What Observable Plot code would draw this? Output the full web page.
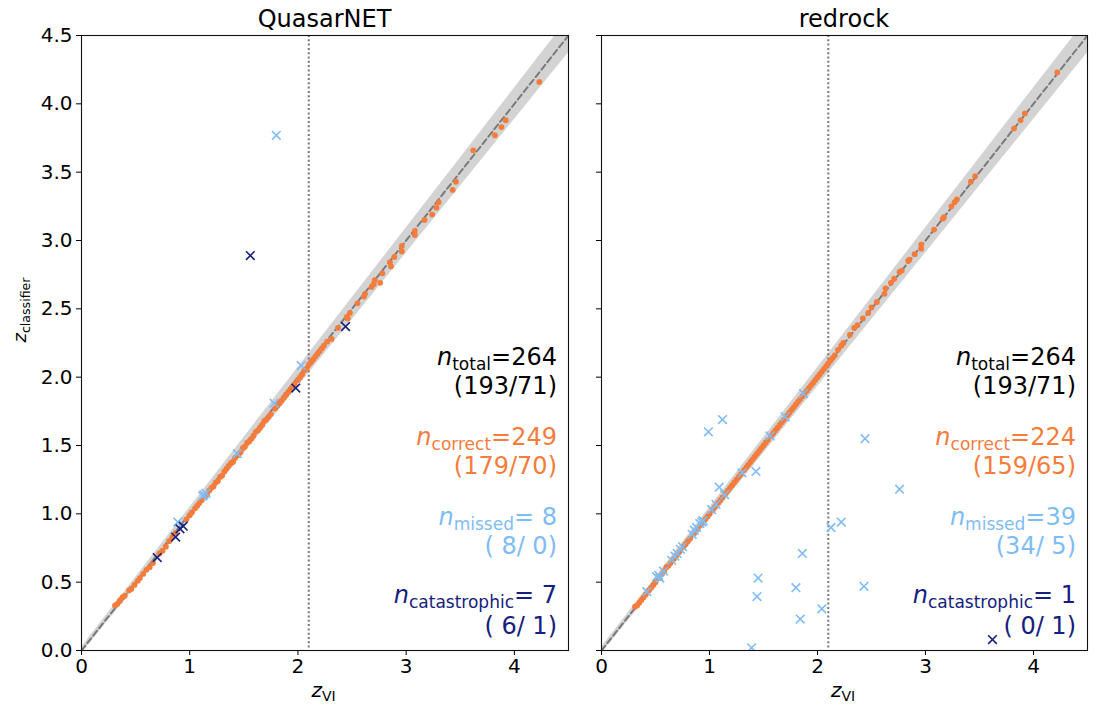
<!DOCTYPE html>
<html><head><meta charset="utf-8">
<script src="https://cdn.jsdelivr.net/npm/d3@7"></script>
<script src="https://cdn.jsdelivr.net/npm/@observablehq/plot@0.6"></script>
<style>
body{margin:0;background:#fff;}
#wrap{position:relative;width:1096px;height:713px;overflow:hidden;background:#fff;}
#wrap svg{position:absolute;top:0;}
</style></head><body><div id="wrap"></div>
<script>
// ---------------- data ----------------
const panelTitles = ["QuasarNET", "redrock"];

// QuasarNET: correct (orange dots)
const qnCorrectVI = [0.31,0.33,0.35,0.36,0.38,0.40,0.44,0.46,0.49,0.52,0.54,0.57,0.60,0.63,0.66,0.72,0.75,0.78,0.81,0.84,0.87,0.97,1.00,1.02,1.05,1.07,1.09,1.11,1.14,1.16,1.18,1.20,1.22,1.24,1.26,1.28,1.30,1.32,1.34,1.36,1.38,1.40,1.42,1.45,1.47,1.49,1.51,1.53,1.55,1.57,1.59,1.61,1.63,1.65,1.67,1.69,1.71,1.73,1.75,1.79,1.81,1.83,1.85,1.87,1.89,1.91,1.93,1.95,1.97,2.00,2.02,2.04,2.06,2.08,2.10,2.12,2.14,2.16,2.18,2.20,2.22,2.24,2.27,2.31,2.37,2.45,2.46,2.48,2.55,2.61,2.62,2.68,2.70,2.71,2.76,2.78,2.86,2.85,2.89,2.96,2.96,3.08,3.08,3.17,3.24,3.28,3.30,3.43,3.46,3.62,3.82,3.88,3.92,4.23];
const qnCorrectZ  = [0.33,0.34,0.36,0.37,0.39,0.40,0.44,0.45,0.48,0.51,0.53,0.56,0.59,0.61,0.64,0.71,0.73,0.76,0.80,0.83,0.86,0.96,0.99,1.01,1.04,1.06,1.08,1.10,1.13,1.14,1.17,1.19,1.20,1.23,1.24,1.27,1.28,1.31,1.33,1.35,1.37,1.38,1.41,1.43,1.45,1.48,1.49,1.52,1.53,1.55,1.57,1.60,1.61,1.63,1.65,1.68,1.69,1.71,1.73,1.77,1.79,1.81,1.83,1.85,1.87,1.89,1.91,1.93,1.95,1.98,2.00,2.02,2.05,2.06,2.09,2.11,2.13,2.15,2.17,2.19,2.21,2.23,2.26,2.28,2.36,2.44,2.43,2.47,2.54,2.59,2.61,2.66,2.68,2.71,2.69,2.76,2.81,2.84,2.88,2.92,2.96,3.04,3.07,3.15,3.19,3.24,3.28,3.37,3.43,3.66,3.77,3.83,3.88,4.16];
// QuasarNET: missed (light blue x)
const qnMissedVI = [1.80,2.03,1.78,1.44,1.13,1.15,1.12,0.89];
const qnMissedZ  = [3.77,2.085,1.81,1.44,1.14,1.15,1.13,0.94];
// QuasarNET: catastrophic (navy x)
const qnCatVI = [1.56,2.44,1.98,0.70,0.87,0.91,0.94];
const qnCatZ  = [2.89,2.37,1.92,0.68,0.83,0.89,0.91];

// redrock: correct
const rrCorrectVI = [0.31,0.33,0.35,0.37,0.39,0.41,0.44,0.46,0.48,0.50,0.53,0.56,0.58,0.60,0.62,0.64,0.67,0.69,0.72,0.76,0.78,0.80,0.82,0.86,0.89,0.92,0.96,0.98,1.00,1.03,1.05,1.08,1.10,1.12,1.15,1.17,1.19,1.21,1.23,1.25,1.27,1.29,1.32,1.34,1.36,1.38,1.40,1.42,1.44,1.46,1.48,1.50,1.52,1.54,1.57,1.59,1.61,1.63,1.65,1.67,1.69,1.72,1.74,1.76,1.78,1.80,1.82,1.84,1.86,1.88,1.90,1.92,1.94,1.96,1.98,2.00,2.02,2.04,2.06,2.08,2.10,2.12,2.14,2.16,2.19,2.22,2.24,2.30,2.34,2.37,2.42,2.47,2.50,2.55,2.62,2.63,2.68,2.71,2.76,2.78,2.84,2.85,2.90,2.96,2.96,3.08,3.16,3.17,3.24,3.27,3.29,3.42,3.46,3.82,3.88,3.92,4.22];
const rrCorrectZ  = [0.32,0.33,0.35,0.37,0.39,0.41,0.44,0.46,0.48,0.50,0.53,0.56,0.58,0.61,0.62,0.64,0.67,0.69,0.72,0.76,0.78,0.80,0.82,0.86,0.89,0.92,0.96,0.98,1.00,1.03,1.05,1.08,1.10,1.12,1.15,1.17,1.19,1.21,1.23,1.25,1.27,1.29,1.32,1.34,1.36,1.38,1.40,1.42,1.44,1.46,1.48,1.50,1.52,1.54,1.57,1.59,1.61,1.63,1.65,1.67,1.69,1.72,1.74,1.76,1.78,1.80,1.82,1.84,1.86,1.88,1.90,1.92,1.94,1.96,1.98,2.00,2.02,2.04,2.06,2.08,2.10,2.12,2.14,2.16,2.20,2.23,2.25,2.31,2.36,2.38,2.43,2.47,2.51,2.55,2.61,2.65,2.69,2.72,2.77,2.78,2.85,2.86,2.90,2.94,2.97,3.08,3.16,3.17,3.25,3.28,3.30,3.43,3.47,3.82,3.88,3.93,4.23];
// redrock: missed
const rrMissedVI = [0.42,0.51,0.53,0.54,0.575,0.65,0.68,0.70,0.73,0.75,0.84,0.86,0.88,0.91,0.93,0.94,1.02,1.06,1.09,1.14,0.99,1.12,1.30,1.43,1.56,1.70,1.87,2.44,2.76,2.125,2.22,1.86,1.45,1.44,1.80,2.43,2.04,1.84,1.39];
const rrMissedZ  = [0.43,0.54,0.55,0.53,0.58,0.66,0.69,0.71,0.74,0.76,0.85,0.88,0.90,0.93,0.94,0.95,1.03,1.07,1.195,1.14,1.60,1.69,1.30,1.31,1.57,1.71,1.88,1.55,1.18,0.90,0.94,0.71,0.53,0.395,0.46,0.47,0.305,0.23,0.02];
// redrock: catastrophic
const rrCatVI = [3.62];
const rrCatZ  = [0.08];

// counts
const statNames = ["total", "correct", "missed", "catastrophic"];
const qnCounts = [264, 249, 8, 7];
const qnSplitA = [193, 179, 8, 6];
const qnSplitB = [71, 70, 0, 1];
const rrCounts = [264, 224, 39, 1];
const rrSplitA = [193, 159, 34, 0];
const rrSplitB = [71, 65, 5, 1];

// axes
const zRange = [0, 4.5];
const xTicks = [0, 1, 2, 3, 4];
const yTicks = [0, 0.5, 1, 1.5, 2, 2.5, 3, 3.5, 4, 4.5];
const zCut = 2.1;
const bandFrac = 0.023;

// ---------------- style ----------------
const ORANGE = "#f47c3c", LIGHT = "#80bcf4", NAVY = "#15207c";
const statColors = ["#000000", ORANGE, LIGHT, NAVY];
const FONT = "DejaVu Sans";

function rows(xs, ys) { return xs.map((x, i) => ({x, y: ys[i]})); }

function panel(k, cfg) {
  const {W, ML, MR, left} = cfg;
  const d = k === 0
    ? {cx: qnCorrectVI, cy: qnCorrectZ, mx: qnMissedVI, my: qnMissedZ, kx: qnCatVI, ky: qnCatZ, n: qnCounts, a: qnSplitA, b: qnSplitB}
    : {cx: rrCorrectVI, cy: rrCorrectZ, mx: rrMissedVI, my: rrMissedZ, kx: rrCatVI, ky: rrCatZ, n: rrCounts, a: rrSplitA, b: rrSplitB};
  const H = 713, MT = 35, MB = 63;
  const svg = Plot.plot({
    width: W, height: H, marginTop: MT, marginBottom: MB, marginLeft: ML, marginRight: MR,
    style: {fontFamily: FONT, fontSize: "20px", color: "#000", background: "transparent", overflow: "visible"},
    x: {domain: zRange},
    y: {domain: zRange},
    marks: [
      Plot.areaY(zRange, {x: z => z, y1: z => z - bandFrac * (1 + z), y2: z => z + bandFrac * (1 + z), fill: "#d3d3d3", clip: true}),
      Plot.line(zRange, {x: z => z, y: z => z, stroke: "#7a7a7a", strokeWidth: 2, strokeDasharray: "6,3.5", clip: true}),
      Plot.ruleX([zCut], {stroke: "#777777", strokeWidth: 2, strokeDasharray: "2,2.3"}),
      Plot.dot(rows(d.cx, d.cy), {x: "x", y: "y", r: 2.9, fill: ORANGE, stroke: null, clip: true}),
      Plot.dot(rows(d.mx, d.my), {x: "x", y: "y", r: 4, symbol: "times", stroke: LIGHT, strokeWidth: 1.6, clip: true}),
      Plot.dot(rows(d.kx, d.ky), {x: "x", y: "y", r: 4, symbol: "times", stroke: NAVY, strokeWidth: 1.6, clip: true}),
      Plot.axisX({ticks: xTicks, tickSize: 5, tickPadding: 3, tickFormat: "d", label: null, fontSize: 20}),
      Plot.axisY({ticks: yTicks, tickSize: 5, tickPadding: 4, label: null, fontSize: 20,
                  tickFormat: k === 0 ? (v => v.toFixed(1)) : (() => "")}),
      Plot.frame({stroke: "#111", strokeWidth: 1.1})
    ]
  });
  svg.style.left = left + "px";
  const s = d3.select(svg);
  const fx0 = ML, fx1 = W - MR, fcx = (fx0 + fx1) / 2;
  // title
  s.append("text").attr("x", fcx).attr("y", 27).attr("text-anchor", "middle")
    .attr("font-family", FONT).attr("font-size", 24).attr("fill", "#000").text(panelTitles[k]);
  // x label
  const xl = s.append("text").attr("x", fcx - 1).attr("y", 697).attr("text-anchor", "middle")
    .attr("font-family", FONT).attr("font-size", 20).attr("fill", "#000");
  xl.append("tspan").attr("font-style", "italic").text("z");
  xl.append("tspan").attr("font-size", 14).attr("dy", 4).text("VI");
  // y label (left only)
  if (k === 0) {
    const yl = s.append("text").attr("transform", "translate(26,310) rotate(-90)").attr("text-anchor", "middle")
      .attr("font-family", FONT).attr("font-size", 18).attr("fill", "#000");
    yl.append("tspan").attr("font-style", "italic").text("z");
    yl.append("tspan").attr("font-size", 12.6).attr("dy", 3.5).text("classifier");
  }
  // stats: one text element per block, two lines
  const base1 = [365, 445, 525, 603], base2 = [394, 474, 554, 634];
  const pad = v => String(v).padStart(2, " ");
  const xr = fx1 - 11;
  statNames.forEach((name, i) => {
    const t = s.append("text").attr("text-anchor", "end")
      .attr("font-family", FONT).attr("font-size", 24).attr("fill", statColors[i]).style("white-space", "pre");
    t.append("tspan").attr("x", xr).attr("y", base1[i]).attr("font-style", "italic").text("n");
    t.append("tspan").attr("font-size", 17).attr("dy", 4.5).text(name);
    t.append("tspan").attr("dy", -4.5).text("=" + pad(d.n[i]));
    t.append("tspan").attr("x", xr).attr("y", base2[i])
      .text("(" + pad(d.a[i]) + "/" + pad(d.b[i]) + ")");
  });
  return svg;
}

const wrap = document.getElementById("wrap");
wrap.appendChild(panel(0, {W: 576, ML: 81, MR: 8, left: 0}));
wrap.appendChild(panel(1, {W: 520, ML: 25, MR: 9, left: 576}));
</script>
</body></html>
